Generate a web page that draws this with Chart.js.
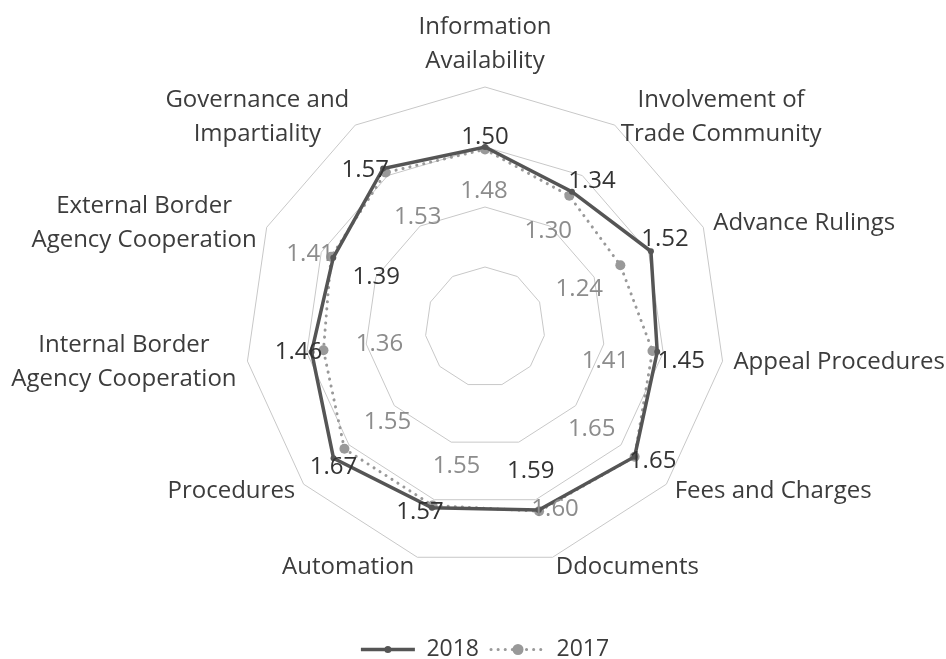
<!DOCTYPE html>
<html>
<head>
<meta charset="utf-8">
<script src="https://cdn.jsdelivr.net/npm/chart.js@4.4.1/dist/chart.umd.min.js"></script>
<style>
  html, body { margin: 0; padding: 0; background: #fff; }
  #wrap { width: 946px; height: 659px; }
</style>
</head>
<body>
<div id="wrap"><canvas id="radar"></canvas></div>
<script>
// ---- data ----
const categories = [
  ["Information", "Availability"],
  ["Involvement of", "Trade Community"],
  "Advance Rulings",
  "Appeal Procedures",
  "Fees and Charges",
  "Ddocuments",
  "Automation",
  "Procedures",
  ["Internal Border", "Agency Cooperation"],
  ["External Border", "Agency Cooperation"],
  ["Governance and", "Impartiality"]
];
const values2018 = [1.50, 1.34, 1.52, 1.45, 1.65, 1.59, 1.57, 1.67, 1.46, 1.39, 1.57];
const values2017 = [1.48, 1.30, 1.24, 1.41, 1.65, 1.60, 1.55, 1.55, 1.36, 1.41, 1.53];
const scaleMax = 2;
const scaleStep = 0.5;

// where each value label sits, relative to its point (px)
const labelShift2018 = [[0,-10],[20,-11],[14,-12],[24,9],[18,4],[-8,-39],[-12,4],[0,9],[-13,0],[43,19],[-18,2]];
const labelShift2017 = [[-1,42],[-21,35],[-41,24],[-47,10],[-43,-28],[16,-2],[24,-39],[43,-27],[56,-6],[-21,-3],[32,45]];

const FONT = '"Open Sans", "DejaVu Sans", sans-serif';
const TEXT = "#3c3c3c";
const DARK = "#555555";
const LIGHT = "#999999";

// axis names, placed like the original (centred blocks beside each vertex)
const axisLabels = {
  id: "axisLabels",
  afterDraw(chart) {
    const scale = chart.scales.r;
    const ctx = chart.ctx;
    const lh = 34;
    ctx.save();
    ctx.font = "24px " + FONT;
    ctx.fillStyle = TEXT;
    ctx.textAlign = "center";
    ctx.textBaseline = "middle";
    categories.forEach((cat, i) => {
      const lines = Array.isArray(cat) ? cat : [cat];
      const a = scale.getIndexAngle(i);
      const s = Math.sin(a), c = Math.cos(a);
      const p = scale.getPointPosition(i, scale.drawingArea);
      const w = Math.max(...lines.map(t => ctx.measureText(t).width));
      const h = lines.length * lh;
      let cx, cy;
      if (Math.abs(s) < 0.1) {
        cx = p.x;
        cy = c > 0 ? p.y - 9 - h / 2 : p.y + 9 + h / 2;
      } else {
        cx = p.x + Math.sign(s) * (11 * Math.abs(s) + w / 2);
        cy = p.y - 10 * c;
      }
      lines.forEach((t, k) => ctx.fillText(t, cx, cy - h / 2 + lh / 2 + k * lh));
    });
    ctx.restore();
  }
};

// value labels next to the points
const valueLabels = {
  id: "valueLabels",
  afterDatasetsDraw(chart) {
    const ctx = chart.ctx;
    chart.data.datasets.forEach((ds, di) => {
      const meta = chart.getDatasetMeta(di);
      const shift = di === 0 ? labelShift2018 : labelShift2017;
      ctx.save();
      ctx.font = "24px " + FONT;
      ctx.fillStyle = di === 0 ? "#333333" : "#8c8c8c";
      ctx.textAlign = "center";
      ctx.textBaseline = "middle";
      meta.data.forEach((pt, i) => {
        ctx.fillText(ds.data[i].toFixed(2), pt.x + shift[i][0], pt.y + shift[i][1]);
      });
      ctx.restore();
    });
  }
};

// marker in the middle of each legend line
const legendDots = {
  id: "legendDots",
  afterDraw(chart) {
    const lg = chart.legend;
    if (!lg || !lg.legendHitBoxes) return;
    const ctx = chart.ctx;
    const sw = lg.options.labels.pointStyleWidth;
    lg.legendHitBoxes.forEach((box, i) => {
      const ds = chart.data.datasets[i];
      ctx.save();
      ctx.fillStyle = ds.pointBackgroundColor;
      ctx.beginPath();
      ctx.arc(box.left + sw / 2, box.top + box.height / 2, ds.pointRadius + 0.5, 0, Math.PI * 2);
      ctx.fill();
      ctx.restore();
    });
  }
};

new Chart(document.getElementById("radar"), {
  type: "radar",
  plugins: [axisLabels, valueLabels, legendDots],
  data: {
    labels: categories,
    datasets: [
      {
        label: "2018",
        data: values2018,
        borderColor: DARK,
        backgroundColor: DARK,
        borderWidth: 3.5,
        pointRadius: 3,
        pointBackgroundColor: DARK,
        pointBorderWidth: 0,
        fill: false
      },
      {
        label: "2017",
        data: values2017,
        borderColor: LIGHT,
        backgroundColor: LIGHT,
        borderWidth: 3,
        borderDash: [0.1, 7],
        borderCapStyle: "round",
        pointRadius: 5,
        pointBackgroundColor: LIGHT,
        pointBorderWidth: 0,
        fill: false
      }
    ]
  },
  options: {
    responsive: true,
    maintainAspectRatio: false,
    animation: false,
    layout: { padding: { top: 29, left: 245, right: 221, bottom: -12 } },
    elements: { line: { tension: 0 } },
    scales: {
      r: {
        min: 0,
        max: scaleMax,
        ticks: { stepSize: scaleStep, display: false },
        angleLines: { display: false },
        grid: { color: "#c8c8c8", lineWidth: 1 },
        pointLabels: { display: false }
      }
    },
    plugins: {
      tooltip: { enabled: false },
      legend: {
        position: "bottom",
        labels: {
          color: TEXT,
          font: { family: FONT, size: 23 },
          usePointStyle: true,
          pointStyle: "line",
          pointStyleWidth: 54,
          padding: 12,
          generateLabels(chart) {
            const items = Chart.defaults.plugins.legend.labels.generateLabels(chart);
            items.forEach((it, i) => {
              const ds = chart.data.datasets[i];
              it.lineWidth = ds.borderWidth;
              it.strokeStyle = ds.borderColor;
              it.lineDash = ds.borderDash || [];
              it.lineCap = ds.borderCapStyle || "butt";
              it.pointStyle = "line";
            });
            return items;
          }
        }
      }
    }
  }
});
</script>
</body>
</html>
